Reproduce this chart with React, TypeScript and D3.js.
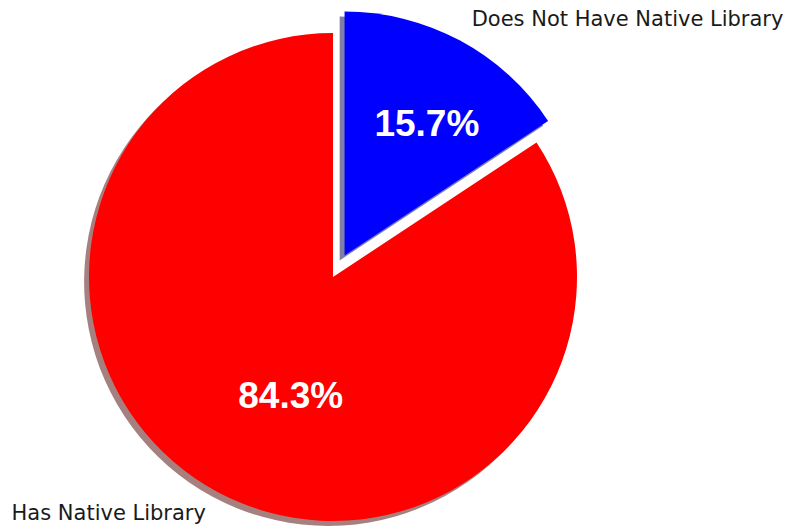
import React from "react";
import * as d3 from "d3";

const categories = ["Does Not Have Native Library", "Has Native Library"];
const values = [15.7, 84.3];
const colors = ["#0000ff", "#ff0000"];
const shadowColors = ["#00004d", "#4d0000"];
const explode = [0.1, 0];

const W = 787;
const H = 528;
const CX = 333;
const CY = 277;
const R = 244;
// fine adjustments of percent label positions relative to the arc centroid (px)
const pctNudge: [number, number][] = [
  [13, -3],
  [27, -10],
];

export default function App() {
  const pie = d3
    .pie<number>()
    .sort(null)
    .startAngle(0)
    .endAngle(2 * Math.PI)
    .value((d) => d);
  const arcs = pie(values);
  const arc = d3.arc<d3.PieArcDatum<number>>().innerRadius(0).outerRadius(R);
  const pctArc = d3
    .arc<d3.PieArcDatum<number>>()
    .innerRadius(R * 0.6)
    .outerRadius(R * 0.6);
  const shadowOff = 0.02 * R;

  const offsets = arcs.map((a, i) => {
    const mid = (a.startAngle + a.endAngle) / 2;
    return [
      Math.sin(mid) * explode[i] * R,
      -Math.cos(mid) * explode[i] * R,
    ];
  });

  return (
    <svg
      width={W}
      height={H}
      style={{ position: "absolute", left: 0, top: 0, background: "#fff" }}
    >
      <g transform={`translate(${CX},${CY})`}>
        {arcs.map((a, i) => (
          <path
            key={"s" + i}
            d={arc(a) || ""}
            fill={shadowColors[i]}
            fillOpacity={0.5}
            transform={`translate(${offsets[i][0] - shadowOff},${
              offsets[i][1] + shadowOff
            })`}
          />
        ))}
        {arcs.map((a, i) => (
          <path
            key={"w" + i}
            d={arc(a) || ""}
            fill={colors[i]}
            transform={`translate(${offsets[i][0]},${offsets[i][1]})`}
          />
        ))}
        {arcs.map((a, i) => {
          const c = pctArc.centroid(a);
          return (
            <text
              key={"p" + i}
              x={c[0] + offsets[i][0] + pctNudge[i][0]}
              y={c[1] + offsets[i][1] + pctNudge[i][1]}
              textAnchor="middle"
              dominantBaseline="central"
              fill="#ffffff"
              fontFamily="'Liberation Sans', Arial, sans-serif"
              fontWeight="bold"
              fontSize={37}
            >
              {values[i].toFixed(1)}%
            </text>
          );
        })}
        {arcs.map((a, i) => {
          const mid = (a.startAngle + a.endAngle) / 2;
          const x = Math.sin(mid) * 1.1 * R + offsets[i][0];
          const y = -Math.cos(mid) * 1.1 * R + offsets[i][1];
          return (
            <text
              key={"l" + i}
              x={x}
              y={y}
              textAnchor={x > 0 ? "start" : "end"}
              dominantBaseline="central"
              fill="#1a1a1a"
              fontFamily="'DejaVu Sans', sans-serif"
              fontSize={21}
            >
              {categories[i]}
            </text>
          );
        })}
      </g>
    </svg>
  );
}
